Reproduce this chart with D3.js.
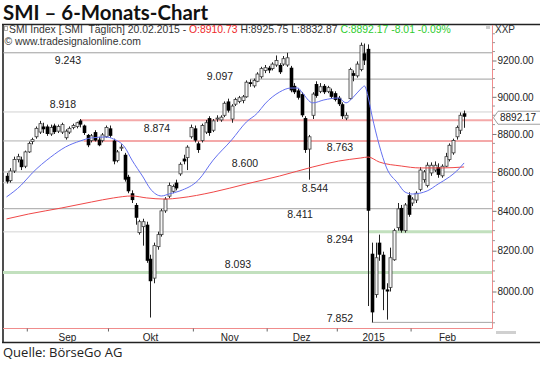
<!DOCTYPE html>
<html><head><meta charset="utf-8">
<script src="https://cdn.jsdelivr.net/npm/d3@7"></script>
<style>
body{margin:0;background:#fff;}
svg{display:block;}
text{white-space:pre;}
</style></head><body>
<svg id="chart" width="540" height="367"></svg>
<script>
// ---------------- DATA ----------------
const dates = [
"2014-08-22","2014-08-25","2014-08-26","2014-08-27","2014-08-28","2014-08-29",
"2014-09-01","2014-09-02","2014-09-03","2014-09-04","2014-09-05","2014-09-08","2014-09-09","2014-09-10","2014-09-11","2014-09-12","2014-09-15","2014-09-16","2014-09-17","2014-09-18","2014-09-19","2014-09-22","2014-09-23","2014-09-24","2014-09-25","2014-09-26","2014-09-29","2014-09-30",
"2014-10-01","2014-10-02","2014-10-03","2014-10-06","2014-10-07","2014-10-08","2014-10-09","2014-10-10","2014-10-13","2014-10-14","2014-10-15","2014-10-16","2014-10-17","2014-10-20","2014-10-21","2014-10-22","2014-10-23","2014-10-24","2014-10-27","2014-10-28","2014-10-29","2014-10-30","2014-10-31",
"2014-11-03","2014-11-04","2014-11-05","2014-11-06","2014-11-07","2014-11-10","2014-11-11","2014-11-12","2014-11-13","2014-11-14","2014-11-17","2014-11-18","2014-11-19","2014-11-20","2014-11-21","2014-11-24","2014-11-25","2014-11-26","2014-11-27","2014-11-28",
"2014-12-01","2014-12-02","2014-12-03","2014-12-04","2014-12-05","2014-12-08","2014-12-09","2014-12-10","2014-12-11","2014-12-12","2014-12-15","2014-12-16","2014-12-17","2014-12-18","2014-12-19","2014-12-22","2014-12-23","2014-12-29","2014-12-30",
"2015-01-05","2015-01-06","2015-01-07","2015-01-08","2015-01-09","2015-01-12","2015-01-13","2015-01-14","2015-01-15","2015-01-16","2015-01-19","2015-01-20","2015-01-21","2015-01-22","2015-01-23","2015-01-26","2015-01-27","2015-01-28","2015-01-29","2015-01-30",
"2015-02-02","2015-02-03","2015-02-04","2015-02-05","2015-02-06","2015-02-09","2015-02-10","2015-02-11","2015-02-12","2015-02-13","2015-02-16","2015-02-17","2015-02-18","2015-02-19","2015-02-20"];

const open = [8580,8555,8605,8665,8665,8630,8705,8760,8785,8810,8840,8840,8800,8845,8815,8810,8780,8810,8835,8840,8872,8845,8795,8765,8810,8770,8765,8785,
8830,8765,8660,8725,8690,8575,8490,8430,8290,8320,8330,8160,8065,8220,8280,8400,8475,8500,8545,8590,8670,8675,8785,
8830,8750,8765,8810,8885,8820,8880,8875,8900,8975,8880,8960,8975,8980,9000,9080,9060,9085,9110,9145,
9160,9155,9175,9175,9180,9175,9160,9060,9035,9015,8885,8720,8900,9070,9030,9060,9030,9030,9020,
8995,8960,8885,8990,9130,9115,9150,9240,9265,8185,7985,8240,8180,8010,8020,8155,8315,8415,8300,8480,
8440,8455,8510,8560,8530,8595,8610,8625,8580,8630,8665,8700,8785,8820,8910.73];
const high = [8595,8620,8680,8695,8680,8712,8760,8780,8840,8870,8860,8850,8850,8855,8850,8860,8825,8840,8855,8865,8880,8850,8800,8800,8820,8785,8805,8845,
8845,8775,8715,8745,8700,8585,8505,8440,8355,8360,8345,8180,8240,8295,8410,8470,8545,8535,8560,8650,8690,8740,8850,
8845,8760,8855,8875,8895,8880,8900,8900,8975,8990,8960,8995,9005,9010,9090,9095,9100,9135,9165,9175,
9170,9190,9228,9185,9225,9243,9170,9075,9045,9025,8895,8795,9025,9085,9075,9070,9060,9045,9030,
9005,8970,8915,9160,9145,9195,9300,9295,9290,8240,8240,8280,8195,8040,8215,8310,8440,8430,8440,8495,
8470,8500,8625,8610,8650,8650,8655,8645,8640,8700,8750,8775,8845,8915,8925.75];
const low = [8540,8545,8595,8650,8610,8620,8700,8745,8775,8800,8805,8790,8790,8800,8805,8800,8770,8800,8825,8830,8835,8795,8730,8755,8760,8735,8755,8780,
8780,8640,8650,8710,8550,8490,8440,8330,8280,8225,8140,7875,8040,8205,8270,8390,8465,8490,8505,8580,8640,8610,8775,
8755,8700,8755,8800,8790,8810,8865,8865,8890,8915,8860,8950,8965,8965,8995,9055,9050,9080,9100,9130,
9130,9145,9165,9125,9170,9165,9025,9015,8985,8890,8700,8560,8880,8995,9020,9015,9020,8990,8975,
8950,8880,8874,8985,9085,9105,9140,9175,7930,7852,7970,8150,7910,7865,8000,8150,8300,8290,8290,8370,
8425,8440,8500,8545,8520,8580,8600,8570,8570,8625,8655,8690,8770,8800,8832.87];
const close = [8550,8605,8665,8680,8625,8705,8750,8770,8830,8855,8825,8800,8835,8810,8840,8850,8815,8830,8845,8860,8850,8805,8740,8790,8765,8740,8795,8835,
8790,8655,8705,8730,8560,8500,8455,8365,8345,8345,8150,8050,8225,8280,8400,8460,8530,8525,8515,8640,8655,8730,8835,
8765,8715,8845,8860,8805,8870,8885,8890,8965,8925,8950,8985,8995,9000,9080,9070,9090,9125,9155,9160,
9145,9180,9200,9135,9210,9215,9035,9025,8995,8900,8715,8785,9015,9005,9055,9025,9050,9000,8983.37,
8960,8895,8900,9150,9115,9180,9285,9200,8400.61,7899.59,8165,8180,8010,8000,8165,8300,8410,8300,8430,8380,
8460,8490,8610,8600,8635,8635,8635,8585,8630,8680,8740,8765,8835,8900.18,8892.17];

// moving averages (bar index -> value)
const blueIdx = [0,4,7,12,16,20,23,27,29,32,34,37,39,42,44,47,52,56,61,65,68,70,74,77,79,80,83,86,90,92,94,96,97,98,99,101,103,106,108,110,114,117,120,122,124];
const blueVal = [8471,8532,8595,8678,8731,8763,8779,8784,8773,8731,8662,8574,8512,8476,8486,8502,8558,8662,8768,8864,8912,8961,9026,9048,9048,9026,8967,8983,8994,8967,8999,9043,9059,8999,8902,8741,8621,8543,8496,8486,8502,8538,8574,8605,8647];
const redIdx = [0,6,15,23,29,34,38,43,47,56,65,74,83,90,96,98,101,107,112,118,124];
const redVal = [8359,8384,8415,8445,8466,8476,8466,8460,8466,8496,8538,8579,8626,8657,8673,8678,8652,8631,8621,8621,8626];

// support / resistance levels
const levels = [9243,9097,8918,8874,8763,8600,8544,8411,8294,8093,7852];
const levelLabels = ["9.243","9.097","8.918","8.874","8.763","8.600","8.544","8.411","8.294","8.093","7.852"];

const priceTicks = [9200,9000,8800,8600,8400,8200,8000];
const monthLabels = ["Sep","Okt","Nov","Dez","2015","Feb"];
const monthStarts = ["2014-09-01","2014-10-01","2014-11-03","2014-12-01","2015-01-05","2015-02-02"];
const monthTradingDays = [22,23,20,19,20,20];

// ---------------- LAYOUT ----------------
const font = "'Liberation Sans', Arial, sans-serif";
const plotR = 492.5, plotB = 328.5, plotT = 25, plotL = 3;
const levelStyle = [
  {start:null, color:"#9e9e9e", w:1,  lx:68,  dy:11.7},
  {start:66,   color:"#9e9e9e", w:1,  lx:220, dy:1},
  {start:null, color:"#d2d2d2", w:1,  lx:63,  dy:-4},
  {start:20,   color:"#f4a9a9", w:2,  lx:157, dy:12},
  {start:21,   color:"#f4a9a9", w:2,  lx:340, dy:10.4, pre:"#b0b0b0"},
  {start:null, color:"#a4a4a4", w:1,  lx:245, dy:-5},
  {start:null, color:"#bcbcbc", w:1,  lx:315, dy:9.5},
  {start:null, color:"#a4a4a4", w:1,  lx:300, dy:9},
  {start:98,   color:"#c2e0be", w:3,  lx:340, dy:11, pre:"#d4d4d4"},
  {start:null, color:"#c2e0be", w:3,  lx:238, dy:-4.6},
  {start:99,   color:"#a4a4a4", w:1,  lx:340, dy:-0.6}
];

const svg = d3.select("#chart");
const x = d3.scaleLinear().domain([0, dates.length-1]).range([6.5, 464.1]);
const y = d3.scaleLog().domain([8000, 9200]).range([291.5, 60.5]);

// title
svg.append("text").attr("x",3).attr("y",20)
  .attr("font-family","Lato, 'Open Sans', sans-serif").attr("font-weight","bold")
  .attr("font-size",20).attr("fill","#111")
  .attr("textLength",205).attr("lengthAdjust","spacingAndGlyphs")
  .text("SMI – 6-Monats-Chart");

// outer frame
svg.append("line").attr("x1",2).attr("x2",540).attr("y1",24.5).attr("y2",24.5).attr("stroke","#222").attr("stroke-width",1.3);
svg.append("line").attr("x1",3).attr("x2",3).attr("y1",24).attr("y2",343).attr("stroke","#222").attr("stroke-width",1.6);
svg.append("line").attr("x1",2).attr("x2",540).attr("y1",342.5).attr("y2",342.5).attr("stroke","#222").attr("stroke-width",1.4);

// header
const n = close.length;
const chg = close[n-1]-close[n-2];
const pct = chg/close[n-2]*100;
const h1 = svg.append("text").attr("x",9).attr("y",32.5).attr("font-family",font).attr("font-size",10.4).attr("fill","#333");
h1.append("tspan").text("SMI Index [.SMI  Täglich] 20.02.2015 - ");
h1.append("tspan").attr("fill","#ee2a2a").text("O:"+open[n-1].toFixed(2));
h1.append("tspan").text(" H:"+high[n-1].toFixed(2)+" L:"+low[n-1].toFixed(2)+" ");
h1.append("tspan").attr("fill","#2fcc2f").text("C:"+close[n-1].toFixed(2)+" "+chg.toFixed(2)+" "+pct.toFixed(2)+"%");
svg.append("rect").attr("x",4.5).attr("y",26.5).attr("width",3).attr("height",4).attr("fill","none").attr("stroke","#999").attr("stroke-width",0.8);
svg.append("text").attr("x",4.5).attr("y",44.5).attr("font-family",font).attr("font-size",10.4).attr("fill","#333").text("© www.tradesignalonline.com");

// XXP label
svg.append("text").attr("x",495).attr("y",33).attr("font-family",font).attr("font-size",10).attr("fill","#333").text("XXP");
svg.append("rect").attr("x",486).attr("y",26).attr("width",4).attr("height",3).attr("fill","#ccc");

// level lines
const gLv = svg.append("g");
levels.forEach((v,k)=>{
  const s = levelStyle[k];
  const yy = y(v);
  const x0 = s.start===null ? plotL : x(s.start);
  if (s.pre) gLv.append("line").attr("x1",plotL).attr("x2",x0).attr("y1",yy).attr("y2",yy).attr("stroke",s.pre).attr("stroke-width",1);
  gLv.append("line").attr("x1",x0).attr("x2",plotR).attr("y1",yy).attr("y2",yy).attr("stroke",s.color).attr("stroke-width",s.w);
  gLv.append("text").attr("x",s.lx).attr("y",yy+s.dy).attr("text-anchor","middle")
    .attr("font-family",font).attr("font-size",10.5).attr("fill","#222").text(levelLabels[k]);
});

// candles
const gC = svg.append("g");
d3.range(n).forEach(i=>{
  const cx = Math.round(x(i)) + 0.5;
  gC.append("line").attr("x1",cx).attr("x2",cx).attr("y1",y(high[i])).attr("y2",y(low[i]))
    .attr("stroke","#222").attr("stroke-width",1);
  const up = close[i] >= open[i];
  const yt = y(Math.max(open[i],close[i])), yb = y(Math.min(open[i],close[i]));
  const hgt = Math.max(1, yb-yt);
  if (up) {
    gC.append("rect").attr("x",cx-1.5).attr("y",yt).attr("width",3).attr("height",hgt)
      .attr("fill","#f6f6f6").attr("stroke","#3a3a3a").attr("stroke-width",0.8);
  } else {
    gC.append("rect").attr("x",cx-1.8).attr("y",yt).attr("width",3.6).attr("height",hgt).attr("fill","#000");
  }
});

// moving averages
const line = d3.line().x(d=>x(d[0])).y(d=>y(d[1])).curve(d3.curveMonotoneX);
svg.append("path").attr("d",line(redIdx.map((d,k)=>[d,redVal[k]])))
  .attr("fill","none").attr("stroke","#f04848").attr("stroke-width",1);
svg.append("path").attr("d",line(blueIdx.map((d,k)=>[d,blueVal[k]])))
  .attr("fill","none").attr("stroke","#6470f0").attr("stroke-width",1);

// plot borders (red)
svg.append("line").attr("x1",plotR).attr("x2",plotR).attr("y1",plotT).attr("y2",plotB).attr("stroke","#f08c8c").attr("stroke-width",1);
svg.append("line").attr("x1",plotL).attr("x2",plotR).attr("y1",plotB).attr("y2",plotB).attr("stroke","#f08c8c").attr("stroke-width",1.2);

// price axis
const ax = svg.append("g").attr("transform",`translate(${plotR},0)`)
  .call(d3.axisRight(y).tickValues(priceTicks).tickFormat(d3.format(".2f")).tickSize(4).tickPadding(1).tickSizeOuter(0));
ax.select(".domain").remove();
ax.selectAll(".tick line").attr("stroke","#777");
ax.selectAll(".tick text").attr("font-family",font).attr("font-size",10).attr("fill","#222");
const minor = d3.range(7850, 9351, 50).filter(v=>!priceTicks.includes(v) && y(v)>plotT+2 && y(v)<plotB-1);
svg.append("g").selectAll("line").data(minor).join("line")
  .attr("x1",plotR).attr("x2",plotR+2.5).attr("y1",d=>y(d)).attr("y2",d=>y(d)).attr("stroke","#999");

// current price box
const yc = y(close[n-1]) + 1;
svg.append("path").attr("d",`M493.5,${yc} L498,${yc-6.5} L541,${yc-6.5} L541,${yc+6.5} L498,${yc+6.5} Z`)
  .attr("fill","#fff").attr("stroke","#888").attr("stroke-width",0.8);
svg.append("text").attr("x",500).attr("y",yc+3.6).attr("font-family",font).attr("font-size",10).attr("fill","#222")
  .text(close[n-1].toFixed(2));

// time axis
const startIdx = monthStarts.map(d=>dates.indexOf(d));
const tax = svg.append("g").attr("transform",`translate(0,${plotB})`)
  .call(d3.axisBottom(x).tickValues(startIdx.map(i=>i-0.5)).tickFormat("").tickSize(3).tickSizeOuter(0));
tax.select(".domain").remove();
tax.selectAll(".tick line").attr("stroke","#666");
svg.append("g").selectAll("text").data(monthLabels).join("text")
  .attr("x",(d,k)=>x(startIdx[k] + (monthTradingDays[k]-1)/2))
  .attr("y",340.5).attr("text-anchor","middle").attr("font-family",font).attr("font-size",10).attr("fill","#222")
  .text(d=>d);
svg.append("rect").attr("x",496).attr("y",331).attr("width",20).attr("height",3).attr("fill","#d0d0d0");

// source
svg.append("text").attr("x",3).attr("y",356.5).attr("font-family","'Open Sans', sans-serif").attr("font-size",13)
  .attr("fill","#222").text("Quelle: BörseGo AG");
</script>
</body></html>
